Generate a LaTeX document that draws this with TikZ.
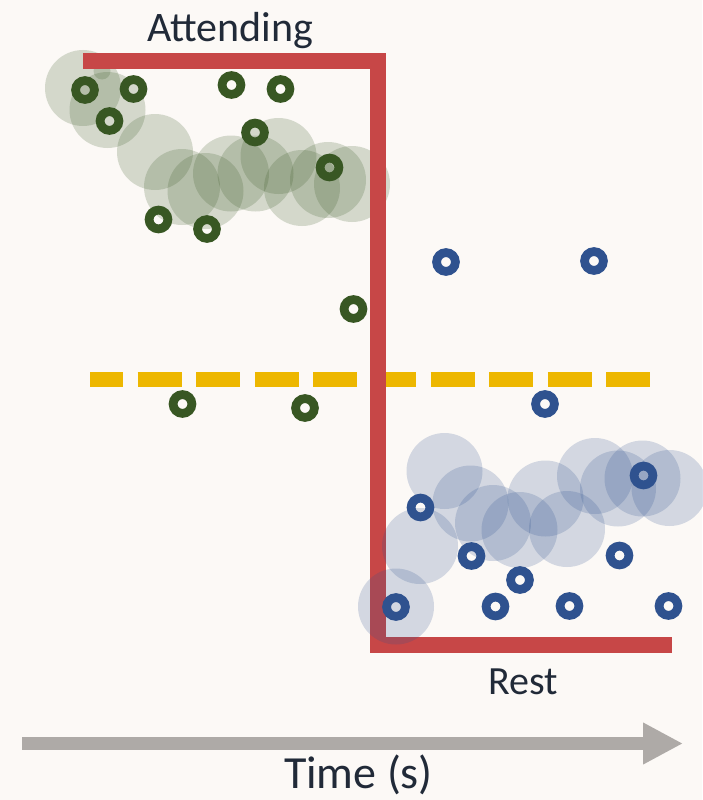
\documentclass[tikz,border=0pt]{standalone}
\usepackage{fontspec}
\setmainfont{Carlito}
\usetikzlibrary{arrows.meta}
\definecolor{bgc}{RGB}{252,249,246}
\definecolor{redc}{RGB}{199,71,71}
\definecolor{yelc}{RGB}{237,183,0}
\definecolor{grnc}{RGB}{56,87,35}
\definecolor{bluc}{RGB}{47,82,143}
\definecolor{arrc}{RGB}{174,170,167}
\definecolor{txtc}{RGB}{33,42,56}
\tikzset{
  blobg/.style={circle,fill=grnc,fill opacity=0.2,minimum size=76pt,inner sep=0pt},
  blobb/.style={circle,fill=bluc,fill opacity=0.2,minimum size=76pt,inner sep=0pt},
  ringg/.style={circle,draw=grnc,line width=8.8pt,minimum size=18.8pt,inner sep=0pt},
  ringb/.style={circle,draw=bluc,line width=8.8pt,minimum size=18.8pt,inner sep=0pt},
  lbl/.style={anchor=base,text=txtc,inner sep=0pt},
}
\begin{document}
\begin{tikzpicture}[x=1pt,y=-1pt]
\fill[bgc] (0,0) rectangle (702,800);
\useasboundingbox (0,0) rectangle (702,800);
% green blobs
\foreach \x/\y [count=\i] in {83/88,107.5/110,155/152,182/187,205.5/191,231/173.5,255.5/173.5,278.5/156,302/188,328/180,352/184}
  \node[blobg] (gb\i) at (\x,\y) {};
\node[blobg,minimum size=17pt] (gbs) at (102,71) {};
% yellow dashed threshold
\coordinate (y1) at (90,379);
\coordinate (y2) at (651,379);
\draw[yelc,line width=15pt,dash pattern=on 44pt off 14.6pt,dash phase=11pt] (y1) -- (y2);
% red block line
\coordinate (r1) at (83,61);
\coordinate (r2) at (378,61);
\coordinate (r3) at (378,645);
\coordinate (r4) at (672,645);
\draw[redc,line width=15.5pt,line join=miter] (r1) -- (r2) -- (r3) -- (r4);
% blue blobs
\foreach \x/\y [count=\i] in {444.5/471,470.5/503.5,420/546,493/523,519.5/530,545.5/498.5,567/529,595/476,618/488.5,642.5/478.5,669.5/488,396/606.5}
  \node[blobb] (bb\i) at (\x,\y) {};
% green rings
\foreach \x/\y [count=\i] in {85/90,133.5/89,231.5/85,280.5/89,109.5/121,255/132.5,329.5/167.5,158.5/219.5,207/229,353.5/309,182.5/404,305/408}
  \node[ringg] (gr\i) at (\x,\y) {};
% blue rings
\foreach \x/\y [count=\i] in {446/262,594/261,545/404,420.5/507.5,643.5/475.5,471.5/556,619.5/555.5,520/580,396/607,495.5/606.5,569.5/606,668.5/606}
  \node[ringb] (br\i) at (\x,\y) {};
% labels
\node[lbl,font=\fontsize{42}{46}\selectfont] (att) at (230,41.5) {Attending};
\node[lbl,font=\fontsize{40}{44}\selectfont] (rest) at (523,694) {Rest};
% time axis
\coordinate (a1) at (22,743.5);
\coordinate (a2) at (683,743.5);
\draw[arrc,line width=13pt,-{Triangle[length=40pt,width=39pt]}] (a1) -- (a2);
\node[lbl,font=\fontsize{46}{50}\selectfont] (time) at (358.5,788) {Time (s)};
\end{tikzpicture}
\end{document}
